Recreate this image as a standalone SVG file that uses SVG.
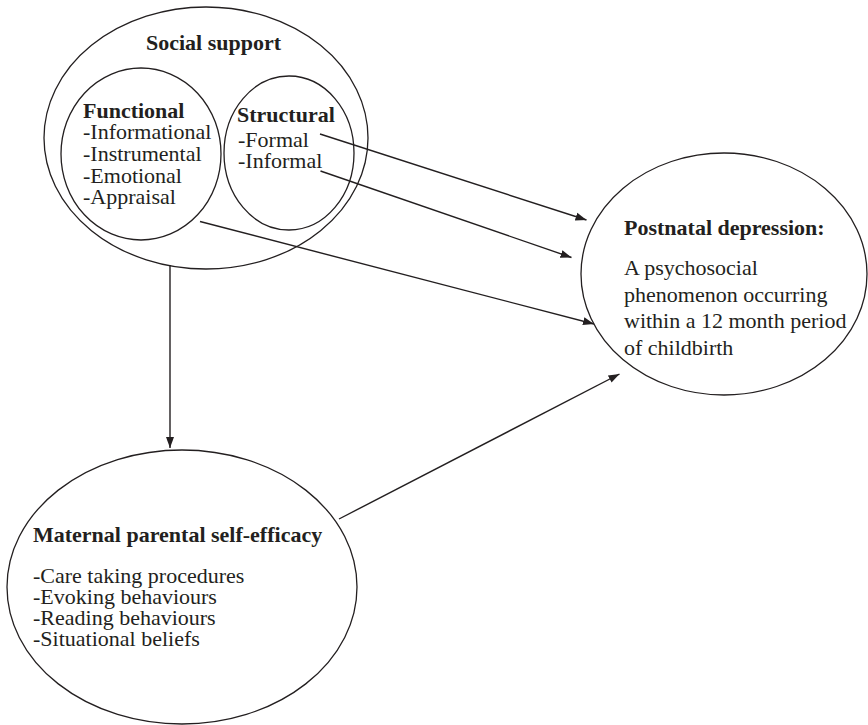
<svg xmlns="http://www.w3.org/2000/svg" width="868" height="725" viewBox="0 0 868 725">
<defs>
<style>
.sh{fill:none;stroke:#231f20;stroke-width:1.3}
.c{fill:none;stroke:#231f20;stroke-width:1.4}
text{font-family:"Liberation Serif","Times New Roman",serif;font-size:22px;fill:#231f20}
.b{font-weight:bold}
</style>
<marker id="ah" markerUnits="userSpaceOnUse" markerWidth="12" markerHeight="10" viewBox="0 0 12 10" refX="11" refY="5" orient="auto">
<path d="M0,1 L11,5 L0,9 Z" fill="#231f20"/>
</marker>
</defs>
<rect width="868" height="725" fill="#fff"/>
<g id="social-support">
<ellipse class="sh" cx="206" cy="138" rx="162" ry="131"/>
<text class="b" x="146" y="50" font-size="21">Social support</text>
</g>
<g id="functional">
<ellipse class="sh" cx="141" cy="154" rx="80" ry="86"/>
<text x="83" y="118"><tspan class="b">Functional</tspan><tspan x="83" y="139">-Informational</tspan><tspan x="83" y="161">-Instrumental</tspan><tspan x="83" y="183">-Emotional</tspan><tspan x="83" y="204">-Appraisal</tspan></text>
</g>
<g id="structural">
<ellipse class="sh" cx="289" cy="153" rx="65" ry="77"/>
<text x="237" y="122"><tspan class="b">Structural</tspan><tspan x="238" y="147">-Formal</tspan><tspan x="238" y="168">-Informal</tspan></text>
</g>
<g id="postnatal-depression">
<ellipse class="sh" cx="724" cy="274" rx="143" ry="121"/>
<text x="624" y="235" class="b">Postnatal depression:</text>
<text x="624" y="275">A psychosocial<tspan x="624" y="301.5">phenomenon occurring</tspan><tspan x="624" y="328">within a 12 month period</tspan><tspan x="624" y="355">of childbirth</tspan></text>
</g>
<g id="maternal-self-efficacy">
<ellipse class="sh" cx="182" cy="587" rx="175" ry="137"/>
<text x="33" y="542" class="b">Maternal parental self-efficacy</text>
<text x="33" y="583">-Care taking procedures<tspan x="33" y="604">-Evoking behaviours</tspan><tspan x="33" y="625">-Reading behaviours</tspan><tspan x="33" y="646">-Situational beliefs</tspan></text>
</g>
<g id="connectors">
<line class="c" x1="320" y1="134" x2="586.5" y2="220" marker-end="url(#ah)"/>
<line class="c" x1="320.5" y1="171" x2="571.5" y2="257.5" marker-end="url(#ah)"/>
<line class="c" x1="200" y1="221.5" x2="594" y2="324" marker-end="url(#ah)"/>
<line class="c" x1="170" y1="265" x2="170" y2="448" marker-end="url(#ah)"/>
<line class="c" x1="339" y1="519" x2="619.5" y2="374" marker-end="url(#ah)"/>
</g>
</svg>
